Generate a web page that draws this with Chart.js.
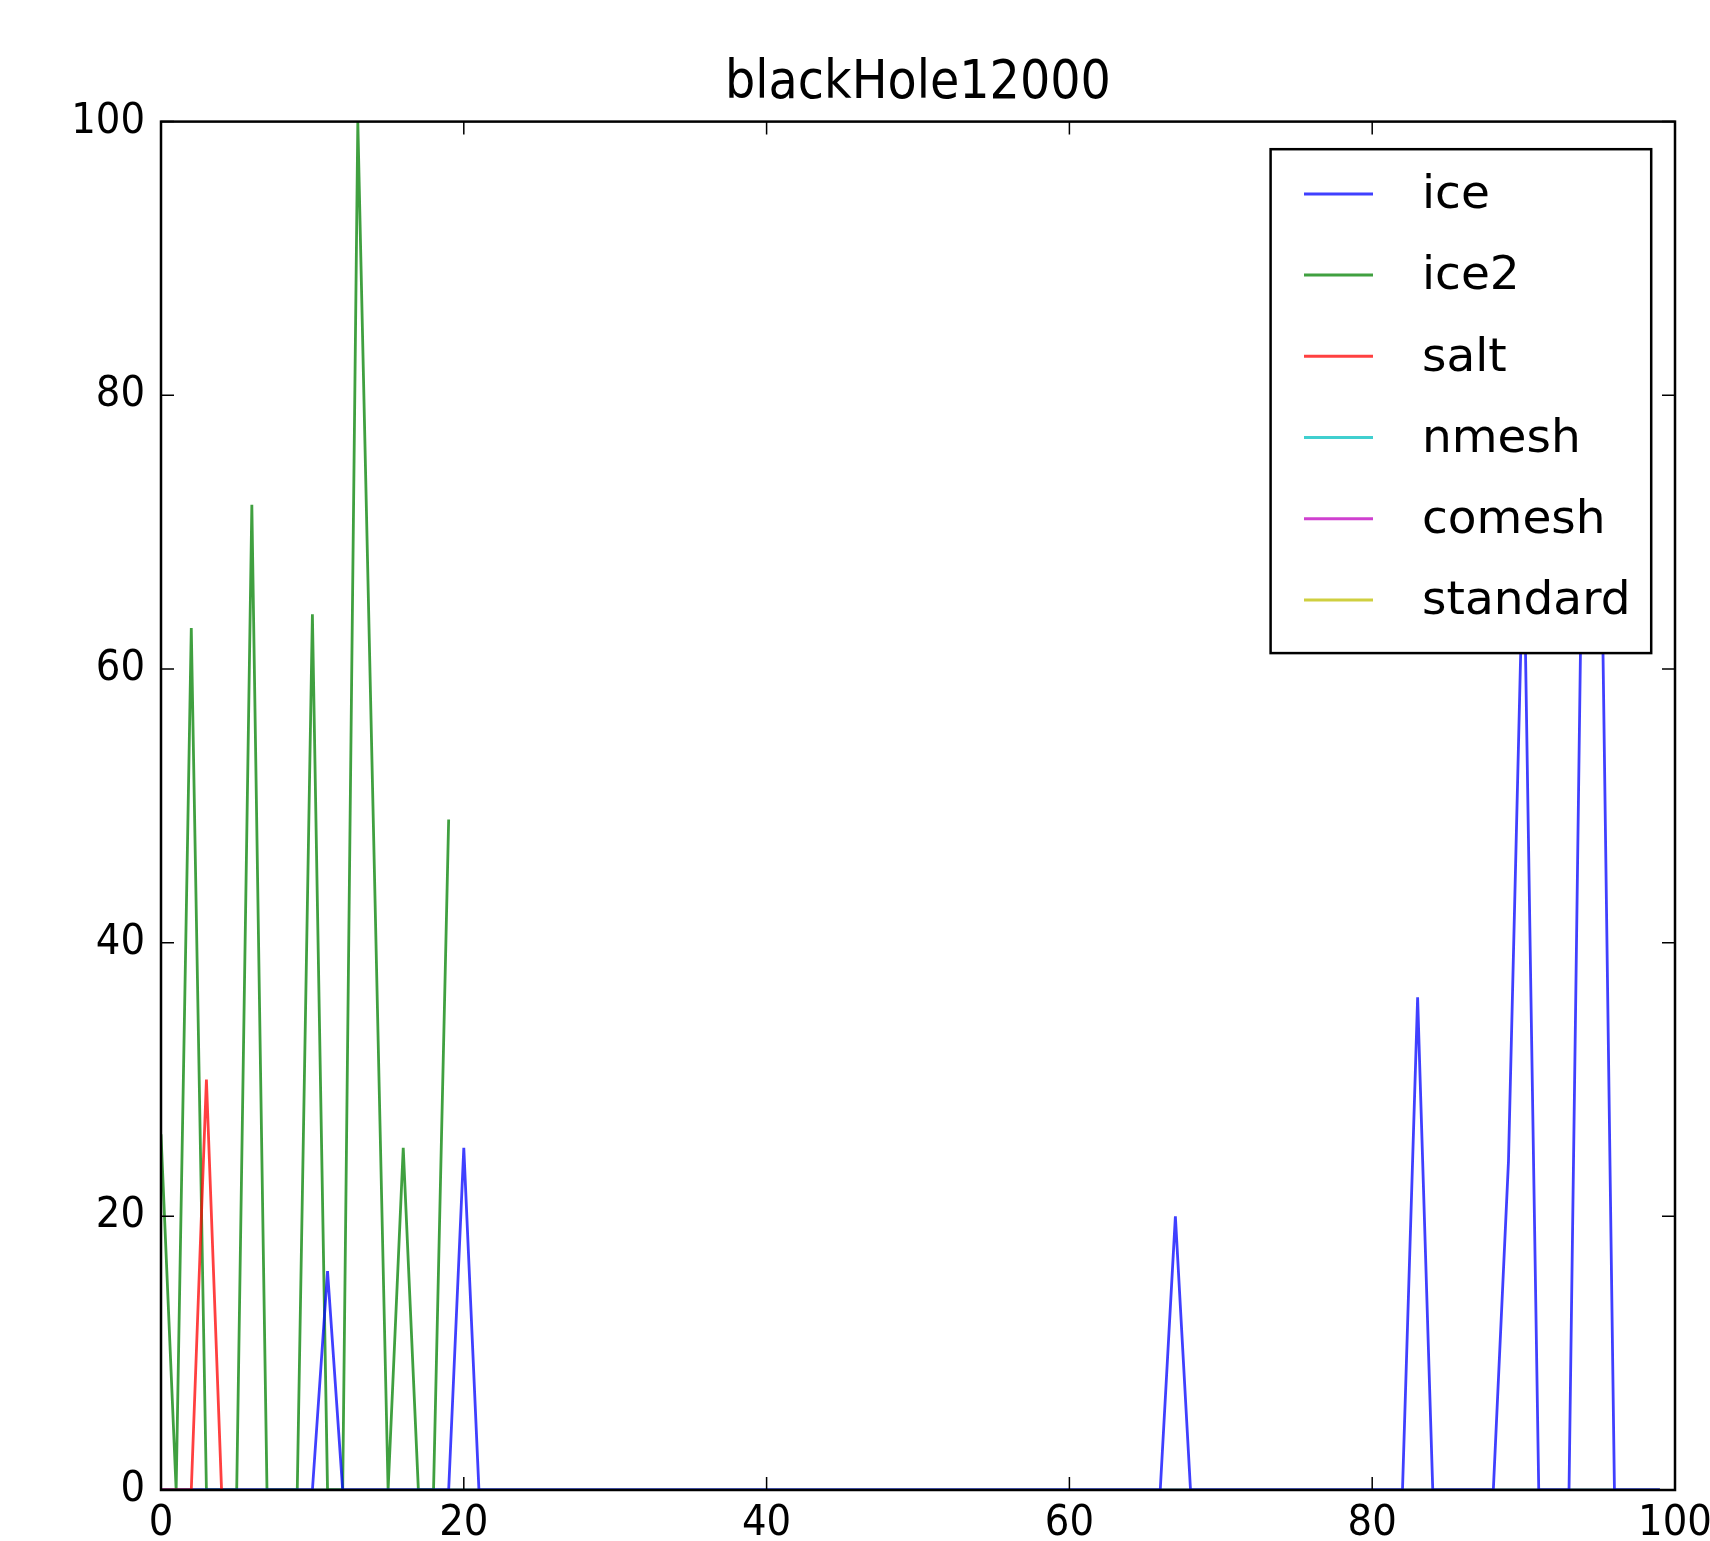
<!DOCTYPE html>
<html>
<head>
<meta charset="utf-8">
<script src="https://cdn.jsdelivr.net/npm/chart.js@4.4.1/dist/chart.umd.min.js"></script>
<style>
  html, body { margin: 0; padding: 0; background: #ffffff; }
  #wrap { width: 1710px; height: 1541px; }
</style>
</head>
<body>
<div id="wrap"><canvas id="c" width="1710" height="1541"></canvas></div>
<script>
// ---- data ----
const chartTitle = "blackHole12000";
const seriesNames = ["ice", "ice2", "salt", "nmesh", "comesh", "standard"];
const seriesColors = ["rgba(0,0,255,0.75)", "rgba(0,128,0,0.75)", "rgba(255,0,0,0.75)",
                      "rgba(0,191,191,0.75)", "rgba(191,0,191,0.75)", "rgba(191,191,0,0.75)"];
const xTickValues = [0, 20, 40, 60, 80, 100];
const yTickValues = [0, 20, 40, 60, 80, 100];

const ice = [
  0,0,0,0,0,0,0,0,0,0,
  0,16,0,0,0,0,0,0,0,0,
  25,0,0,0,0,0,0,0,0,0,
  0,0,0,0,0,0,0,0,0,0,
  0,0,0,0,0,0,0,0,0,0,
  0,0,0,0,0,0,0,0,0,0,
  0,0,0,0,0,0,0,20,0,0,
  0,0,0,0,0,0,0,0,0,0,
  0,0,0,36,0,0,0,0,0,24,
  70,0,0,0,81,81,0,0,0,0
];
const ice2 = [26,0,63,0,0,0,72,0,0,0,64,0,0,100,50,0,25,0,0,49];
const salt = [0,0,0,30,0];
const nmesh = [
  0,0,0,0,0,0,0,0,0,0, 0,0,0,0,0,0,0,0,0,0, 0,0,0,0,0,0,0,0,0,0, 0,0,0,0,0,0,0,0,0,0,
  0,0,0,0,0,0,0,0,0,0, 0,0,0,0,0,0,0,0,0,0, 0,0,0,0,0,0,0,0,0,0, 0,0,0,0,0,0,0,0,0,0,
  0,0,0,0,0,0,0,0,0,0, 0,0,0,0,0,0,0,0,0,0
];
const comesh = [
  0,0,0,0,0,0,0,0,0,0, 0,0,0,0,0,0,0,0,0,0, 0,0,0,0,0,0,0,0,0,0, 0,0,0,0,0,0,0,0,0,0,
  0,0,0,0,0,0,0,0,0,0, 0,0,0,0,0,0,0,0,0,0, 0,0,0,0,0,0,0,0,0,0, 0,0,0,0,0,0,0,0,0,0,
  0,0,0,0,0,0,0,0,0,0, 0,0,0,0,0,0,0,0,0,0
];
const standard = [
  0,0,0,0,0,0,0,0,0,0, 0,0,0,0,0,0,0,0,0,0, 0,0,0,0,0,0,0,0,0,0, 0,0,0,0,0,0,0,0,0,0,
  0,0,0,0,0,0,0,0,0,0, 0,0,0,0,0,0,0,0,0,0, 0,0,0,0,0,0,0,0,0,0, 0,0,0,0,0,0,0,0,0,0,
  0,0,0,0,0,0,0,0,0,0, 0,0,0,0,0,0,0,0,0,0
];
const seriesValues = [ice, ice2, salt, nmesh, comesh, standard];
// drawing order (lower = drawn on top)
const drawOrder = [1, 2, 0, 3, 4, 5];

const FONT = "'DejaVu Sans', sans-serif";
const FONT_COND = "'DejaVu Sans Condensed', 'DejaVu Sans', sans-serif";

const datasets = seriesNames.map((name, i) => ({
  label: name,
  data: seriesValues[i].map((v, k) => ({ x: k, y: v })),
  borderColor: seriesColors[i],
  backgroundColor: seriesColors[i],
  borderWidth: 2.8,
  pointRadius: 0,
  tension: 0,
  fill: false,
  order: drawOrder[i]
}));

// frame with inward ticks + matplotlib-style legend
const mplPlugin = {
  id: 'mplFrameLegend',
  afterDatasetsDraw(chart) {
    const ctx = chart.ctx;
    const ca = chart.chartArea;
    const xs = chart.scales.x, ys = chart.scales.y;
    ctx.save();
    ctx.strokeStyle = '#000';
    ctx.lineWidth = 1.5;
    const tl = 13;
    ctx.beginPath();
    xTickValues.forEach(v => {
      const px = xs.getPixelForValue(v);
      ctx.moveTo(px, ca.bottom); ctx.lineTo(px, ca.bottom - tl);
      ctx.moveTo(px, ca.top); ctx.lineTo(px, ca.top + tl);
    });
    yTickValues.forEach(v => {
      const py = ys.getPixelForValue(v);
      ctx.moveTo(ca.left, py); ctx.lineTo(ca.left + tl, py);
      ctx.moveTo(ca.right, py); ctx.lineTo(ca.right - tl, py);
    });
    ctx.stroke();
    ctx.lineWidth = 2.5;
    ctx.strokeRect(ca.left, ca.top, ca.right - ca.left, ca.bottom - ca.top);

    // legend
    const bw = 380.6, bh = 503.9;
    const bx = ca.right - 404.4, by = ca.top + 27.6;
    ctx.fillStyle = '#fff';
    ctx.fillRect(bx, by, bw, bh);
    ctx.lineWidth = 2.5;
    ctx.strokeStyle = '#000';
    ctx.strokeRect(bx, by, bw, bh);
    ctx.font = "47px " + FONT;
    ctx.textBaseline = 'middle';
    ctx.textAlign = 'left';
    chart.data.datasets.forEach((ds, i) => {
      const cy = by + 44.7 + i * 81.2;
      ctx.strokeStyle = ds.borderColor;
      ctx.lineWidth = 3;
      ctx.beginPath();
      ctx.moveTo(bx + 33.4, cy);
      ctx.lineTo(bx + 102.4, cy);
      ctx.stroke();
      ctx.fillStyle = '#000';
      ctx.fillText(ds.label, bx + 151.4, cy + 2);
    });
    ctx.restore();
  }
};

new Chart(document.getElementById('c'), {
  type: 'line',
  data: { datasets },
  options: {
    responsive: false,
    animation: false,
    devicePixelRatio: 1,
    layout: { padding: { left: 0, right: 35, top: 0, bottom: 0 } },
    plugins: {
      legend: { display: false },
      tooltip: { enabled: false },
      title: {
        display: true,
        text: chartTitle,
        fullSize: false,
        color: '#000',
        font: { family: FONT_COND, size: 53, weight: 'normal' },
        padding: { top: 52, bottom: 6 }
      }
    },
    scales: {
      x: {
        type: 'linear',
        min: 0, max: 100,
        afterFit(scale) { scale.height = 51; scale.paddingLeft = 0; scale.paddingRight = 0; },
        afterBuildTicks(scale) { scale.ticks = xTickValues.map(v => ({ value: v })); },
        grid: { display: false, drawTicks: false },
        border: { display: false },
        ticks: {
          color: '#000',
          padding: 8,
          maxRotation: 0,
          autoSkip: false,
          font: { family: FONT_COND, size: 43 }
        }
      },
      y: {
        type: 'linear',
        min: 0, max: 100,
        afterFit(scale) { scale.width = 161; scale.paddingTop = 0; scale.paddingBottom = 0; },
        afterBuildTicks(scale) { scale.ticks = yTickValues.map(v => ({ value: v })); },
        grid: { display: false, drawTicks: false },
        border: { display: false },
        ticks: {
          color: '#000',
          padding: 16,
          autoSkip: false,
          font: { family: FONT_COND, size: 43 }
        }
      }
    }
  },
  plugins: [mplPlugin]
});
</script>
</body>
</html>
